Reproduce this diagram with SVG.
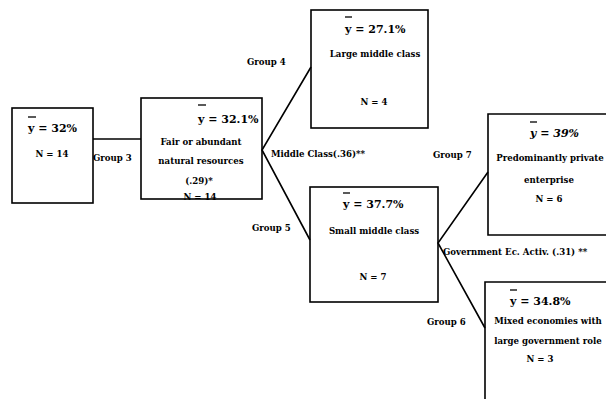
<svg xmlns="http://www.w3.org/2000/svg" width="606" height="399" viewBox="0 0 606 399">
<style>
.box{fill:none;stroke:#000;stroke-width:1.6}
.ln{fill:none;stroke:#000;stroke-width:1.6}
.bar{stroke:#000;stroke-width:1.3}
text{font-family:"DejaVu Serif","Liberation Serif",serif;font-weight:bold;fill:#000}
.m{font-size:11px}
.t{font-size:8.6px;text-anchor:middle}
.g{font-size:8.6px}
</style>
<rect width="606" height="399" fill="#fff"/>
<g id="connectors">
<polyline class="ln" points="93,139 141,139"/>
<polyline class="ln" points="311,67 262,150 310,240"/>
<polyline class="ln" points="488,172 438,243 485,328"/>
</g>
<g id="labels">
<text class="g" x="93" y="161">Group 3</text>
<text class="g" x="247" y="65">Group 4</text>
<text class="g" x="252" y="231">Group 5</text>
<text class="g" x="271" y="157">Middle Class(.36)**</text>
<text class="g" x="433" y="158">Group 7</text>
<text class="g" x="427" y="325">Group 6</text>
<text class="g" x="443" y="255">Government Ec. Activ. (.31) **</text>
</g>
<g id="n1">
<rect class="box" x="12" y="108" width="81" height="95"/>
<line class="bar" x1="28" y1="117" x2="36" y2="117"/>
<text class="m" x="28" y="132">y = 32%</text>
<text class="t" x="52" y="157">N = 14</text>
</g>
<g id="n2">
<rect class="box" x="141" y="98" width="121" height="101"/>
<line class="bar" x1="198" y1="105" x2="206" y2="105"/>
<text class="m" x="198" y="123">y = 32.1%</text>
<text class="t" x="201" y="145">Fair or abundant</text>
<text class="t" x="201" y="164">natural resources</text>
<text class="t" x="199" y="184">(.29)*</text>
<text class="t" x="200" y="200">N = 14</text>
</g>
<g id="n3">
<rect class="box" x="311" y="10" width="117" height="118"/>
<line class="bar" x1="345" y1="17" x2="352" y2="17"/>
<text class="m" x="345" y="33">y = 27.1%</text>
<text class="t" x="375" y="57">Large middle class</text>
<text class="t" x="374" y="105">N = 4</text>
</g>
<g id="n4">
<rect class="box" x="310" y="187" width="128" height="115"/>
<line class="bar" x1="343" y1="193" x2="350" y2="193"/>
<text class="m" x="343" y="208">y = 37.7%</text>
<text class="t" x="374" y="234">Small middle class</text>
<text class="t" x="373" y="280">N = 7</text>
</g>
<g id="n5">
<polyline class="box" points="607,114 488,114 488,235 607,235"/>
<line class="bar" x1="530" y1="122" x2="537" y2="122"/>
<text class="m" x="530" y="137" font-style="italic">y = 39%</text>
<text class="t" x="550" y="161">Predominantly private</text>
<text class="t" x="549" y="183">enterprise</text>
<text class="t" x="549" y="202">N = 6</text>
</g>
<g id="n6">
<polyline class="box" points="607,282 485,282 485,399"/>
<line class="bar" x1="510" y1="290" x2="517" y2="290"/>
<text class="m" x="510" y="305">y = 34.8%</text>
<text class="t" x="548" y="324">Mixed economies with</text>
<text class="t" x="548" y="344">large government role</text>
<text class="t" x="540" y="362">N = 3</text>
</g>
</svg>
